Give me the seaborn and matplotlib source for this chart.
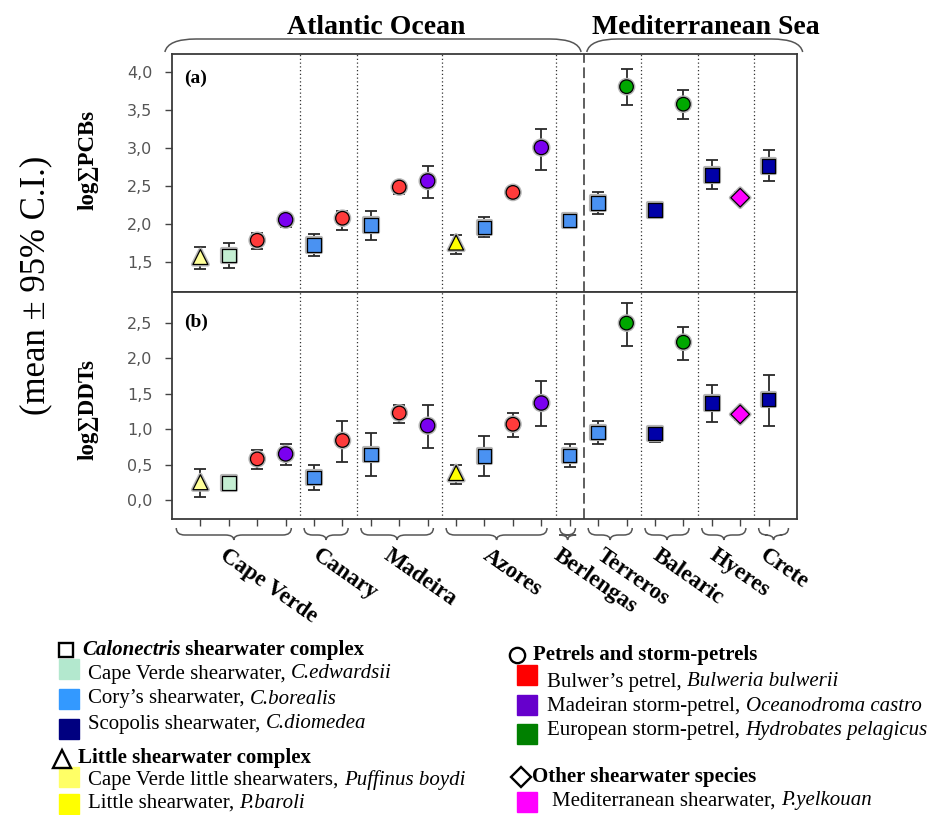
import numpy as np
import pandas as pd
import seaborn as sns
import matplotlib
matplotlib.use("Agg")
import matplotlib.pyplot as plt
from matplotlib.path import Path
from matplotlib.patches import PathPatch, Rectangle
from matplotlib.lines import Line2D
from matplotlib.text import Annotation
from matplotlib import transforms
import matplotlib.patheffects as pe
from matplotlib.ticker import FuncFormatter

# ---- data ----
colonies = ["Cape Verde", "Canary", "Madeira", "Azores", "Berlengas",
            "Terreros", "Balearic", "Hyeres", "Crete"]
colony_counts = [4, 2, 3, 4, 1, 2, 2, 2, 1]

species = ["boydi", "edwardsii", "bulwerii", "castro",
           "borealis", "bulwerii",
           "borealis", "bulwerii", "castro",
           "baroli", "borealis", "bulwerii", "castro",
           "borealis",
           "borealis", "pelagicus",
           "diomedea", "pelagicus",
           "diomedea", "yelkouan",
           "diomedea"]

pcb_mean = [1.57, 1.59, 1.79, 2.06, 1.73, 2.08, 1.99, 2.49, 2.57, 1.76, 1.96,
            2.42, 3.01, 2.05, 2.28, 3.81, 2.19, 3.58, 2.65, 2.35, 2.77]
pcb_lo = [1.41, 1.43, 1.68, 1.97, 1.59, 1.93, 1.80, 2.40, 2.35, 1.61, 1.83,
          2.35, 2.72, 1.95, 2.14, 3.57, 2.11, 3.39, 2.46, 2.28, 2.57]
pcb_hi = [1.70, 1.75, 1.89, 2.14, 1.87, 2.18, 2.18, 2.56, 2.77, 1.86, 2.09,
          2.49, 3.26, 2.15, 2.43, 4.04, 2.27, 3.77, 2.84, 2.43, 2.98]

ddt_mean = [0.25, 0.24, 0.58, 0.65, 0.32, 0.84, 0.64, 1.23, 1.05, 0.38, 0.62,
            1.07, 1.37, 0.63, 0.95, 2.50, 0.94, 2.23, 1.37, 1.21, 1.42]
ddt_lo = [0.04, 0.15, 0.43, 0.50, 0.14, 0.54, 0.34, 1.09, 0.74, 0.23, 0.34,
          0.89, 1.05, 0.47, 0.79, 2.18, 0.82, 1.98, 1.10, 1.13, 1.05]
ddt_hi = [0.43, 0.34, 0.71, 0.79, 0.50, 1.11, 0.95, 1.34, 1.34, 0.50, 0.91,
          1.23, 1.68, 0.79, 1.11, 2.78, 1.05, 2.45, 1.63, 1.29, 1.77]

pcb_ticks = [1.5, 2.0, 2.5, 3.0, 3.5, 4.0]
ddt_ticks = [0.0, 0.5, 1.0, 1.5, 2.0, 2.5]

# ---- styles ----
marker_colors = {"boydi": "#FFFF99", "edwardsii": "#C4EED2", "bulwerii": "#FF3B3B",
                 "castro": "#7A00F0", "borealis": "#4A92F2", "baroli": "#FFFF00",
                 "pelagicus": "#00A800", "diomedea": "#0000A8", "yelkouan": "#FF00FF"}
marker_shapes = {"boydi": "^", "edwardsii": "s", "bulwerii": "o", "castro": "o",
                 "borealis": "s", "baroli": "^", "pelagicus": "o", "diomedea": "s",
                 "yelkouan": "D"}
marker_sizes = {"boydi": 115, "edwardsii": 95, "bulwerii": 95, "castro": 105,
                "borealis": 95, "baroli": 115, "pelagicus": 95, "diomedea": 95,
                "yelkouan": 90}

W, H = 928, 815
def fx(px):
    return px / W
def fy(py):
    return 1 - py / H

sns.set_style("white")
plt.rcParams["font.family"] = ["Liberation Serif", "DejaVu Serif"]
plt.rcParams["text.color"] = "black"

pos = np.arange(1, len(species) + 1)
df = pd.DataFrame({"pos": pos, "species": species,
                   "pcb": pcb_mean, "pcb_lo": pcb_lo, "pcb_hi": pcb_hi,
                   "ddt": ddt_mean, "ddt_lo": ddt_lo, "ddt_hi": ddt_hi})

fig = plt.figure(figsize=(9.28, 8.15), dpi=100)
ax_a = fig.add_axes([fx(172), fy(292), fx(797) - fx(172), fy(54) - fy(292)])
ax_b = fig.add_axes([fx(172), fy(519), fx(797) - fx(172), fy(292) - fy(519)])

# group boundaries
bounds = np.concatenate([[0], np.cumsum(colony_counts) + 0.5])
bounds[-1] = len(species) + 1

halo = [pe.withStroke(linewidth=3, foreground="#b5b5b5")]

for ax, col, ylim, ticks in [(ax_a, "pcb", (1.11, 4.24), pcb_ticks),
                             (ax_b, "ddt", (-0.27, 2.94), ddt_ticks)]:
    ax.errorbar(df["pos"], df[col],
                yerr=[df[col] - df[col + "_lo"], df[col + "_hi"] - df[col]],
                fmt="none", ecolor="#2a2a2a", elinewidth=1.3, capsize=4.5,
                capthick=1.3, zorder=2)
    sns.scatterplot(data=df, x="pos", y=col, hue="species", style="species",
                    size="species", palette=marker_colors, markers=marker_shapes,
                    sizes=marker_sizes, edgecolor="black", linewidth=0.9,
                    legend=False, ax=ax, zorder=3)
    for coll in ax.collections:
        if coll.get_zorder() == 3:
            coll.set_path_effects(halo)
    for b in bounds[1:-1]:
        if b == 14.5:
            ax.axvline(b, color="#333333", lw=1.1, ls=(0, (7, 3)), zorder=1)
        else:
            ax.axvline(b, color="#333333", lw=0.9, ls=(0, (1, 2)), zorder=1)
    ax.set_xlim(0, len(species) + 1)
    ax.set_ylim(*ylim)
    ax.set_xticks(pos)
    ax.set_xticklabels([])
    ax.set_yticks(ticks)
    ax.yaxis.set_major_formatter(FuncFormatter(lambda v, p: f"{v:.1f}".replace(".", ",")))
    ax.tick_params(axis="y", direction="out", length=5, width=1, color="#444444",
                   labelsize=11.5, labelcolor="#555555", pad=9, left=True)
    ax.tick_params(axis="x", direction="out", length=5, width=1, color="#444444",
                   bottom=True, top=False)
    for lab in ax.get_yticklabels():
        lab.set_fontfamily("DejaVu Sans")
    for s in ax.spines.values():
        s.set_color("#3a3a3a")
        s.set_linewidth(1.3)
    ax.set_xlabel("")
    ax.set_ylabel("")

ax_a.text(0.02, 0.935, "(a)", transform=ax_a.transAxes, fontsize=14,
          fontweight="bold", va="top", ha="left")
ax_b.text(0.02, 0.905, "(b)", transform=ax_b.transAxes, fontsize=14,
          fontweight="bold", va="top", ha="left")

# y labels
fig.text(fx(88), fy(160), "log\u2211PCBs", rotation=90, ha="center", va="center",
         fontsize=16.5, fontweight="bold")
fig.text(fx(88), fy(410), "log\u2211DDTs", rotation=90, ha="center", va="center",
         fontsize=16.5, fontweight="bold")
fig.text(fx(36), fy(285), "(mean \u00b1 95% C.I.)", rotation=90, ha="center",
         va="center", fontsize=25)

# ---- braces ----
blend = transforms.blended_transform_factory(ax_b.transData, fig.transFigure)

def bottom_brace(x0, x1, r=0.3):
    yt, ym, yb = fy(528), fy(535), fy(540)
    xc = (x0 + x1) / 2
    verts = [(x0, yt), (x0, ym), (x0 + r, ym), (xc - r, ym), (xc, ym), (xc, yb),
             (xc, ym), (xc + r, ym), (x1 - r, ym), (x1, ym), (x1, yt)]
    codes = [Path.MOVETO, Path.CURVE3, Path.CURVE3, Path.LINETO, Path.CURVE3,
             Path.CURVE3, Path.CURVE3, Path.CURVE3, Path.LINETO, Path.CURVE3,
             Path.CURVE3]
    fig.add_artist(PathPatch(Path(verts, codes), transform=blend, fill=False,
                             lw=1.1, edgecolor="#555555", clip_on=False))

def top_cap(x0, x1, r=1.1):
    ye, yt = fy(52), fy(39)
    verts = [(x0, ye), (x0 + 0.1, yt), (x0 + r, yt), (x1 - r, yt), (x1 - 0.1, yt), (x1, ye)]
    codes = [Path.MOVETO, Path.CURVE3, Path.CURVE3, Path.LINETO, Path.CURVE3, Path.CURVE3]
    fig.add_artist(PathPatch(Path(verts, codes), transform=blend, fill=False,
                             lw=1.1, edgecolor="#555555", clip_on=False))

for i, name in enumerate(colonies):
    x0 = bounds[i] + 0.15
    x1 = bounds[i + 1] - 0.3
    bottom_brace(x0, x1)
    fig.text((x0 + x1) / 2 - 0.2, fy(545), name, transform=blend, rotation=-35,
             rotation_mode="anchor", ha="left", va="top", fontsize=16.5,
             fontweight="bold")

top_cap(-0.25, 14.4)
top_cap(14.6, 22.2)
fig.text(7.2, fy(28), "Atlantic Ocean", transform=blend, ha="center", va="center",
         fontsize=20, fontweight="bold")
fig.text(18.8, fy(28), "Mediterranean Sea", transform=blend, ha="center",
         va="center", fontsize=20, fontweight="bold")

# ---- legend (drawn as text) ----
def text_parts(x, y, parts, size=15):
    txt, style, weight = parts[0]
    t = fig.text(fx(x), fy(y), txt, fontsize=size, style=style, fontweight=weight,
                 ha="left", va="center")
    for txt, style, weight in parts[1:]:
        t = fig.add_artist(Annotation(txt, xy=(1, 0), xycoords=t, ha="left",
                                      va="bottom", fontsize=size, style=style,
                                      fontweight=weight))
    return t

def patch(x, y, color):
    fig.add_artist(Rectangle((fx(x), fy(y + 20)), 20 / W, 20 / H, color=color,
                             transform=fig.transFigure))

def hmarker(x, y, m, ms):
    fig.add_artist(Line2D([fx(x)], [fy(y)], marker=m, markersize=ms, mfc="none",
                          mec="black", mew=1.7, transform=fig.transFigure))

hmarker(66, 650, "s", 10)
text_parts(82, 650, [("Calonectris", "italic", "bold"),
                     (" shearwater complex", "normal", "bold")])
legend_left = [("#B3E8CE", "Cape Verde shearwater, ", "C.edwardsii"),
               ("#3399FF", "Cory\u2019s shearwater, ", "C.borealis"),
               ("#000080", "Scopolis shearwater, ", "C.diomedea")]
for k, (c, name, latin) in enumerate(legend_left):
    patch(59, 659 + 30 * k, c)
    text_parts(88, 674 + 25 * k, [(name, "normal", "normal"), (latin, "italic", "normal")])

hmarker(62, 759, "^", 13)
text_parts(78, 758, [("Little shearwater complex", "normal", "bold")])
legend_left2 = [("#FFFF66", "Cape Verde little shearwaters, ", "Puffinus boydi"),
                ("#FFFF00", "Little shearwater, ", "P.baroli")]
for k, (c, name, latin) in enumerate(legend_left2):
    patch(59, 767 + 27 * k, c)
    text_parts(88, 781 + 22 * k, [(name, "normal", "normal"), (latin, "italic", "normal")])

hmarker(517, 655, "o", 11)
text_parts(533, 655, [("Petrels and storm-petrels", "normal", "bold")])
legend_right = [("#FF0000", "Bulwer\u2019s petrel, ", "Bulweria bulwerii"),
                ("#6600CC", "Madeiran storm-petrel, ", "Oceanodroma castro"),
                ("#008000", "European storm-petrel, ", "Hydrobates pelagicus")]
for k, (c, name, latin) in enumerate(legend_right):
    patch(517, 665 + 29.5 * k, c)
    text_parts(547, 682 + 24.5 * k, [(name, "normal", "normal"), (latin, "italic", "normal")])

hmarker(521, 777, "D", 10)
text_parts(532, 777, [("Other shearwater species", "normal", "bold")])
patch(517, 792, "#FF00FF")
text_parts(552, 801, [("Mediterranean shearwater, ", "normal", "normal"),
                      ("P.yelkouan", "italic", "normal")])

fig.savefig("out.png", dpi=100)
